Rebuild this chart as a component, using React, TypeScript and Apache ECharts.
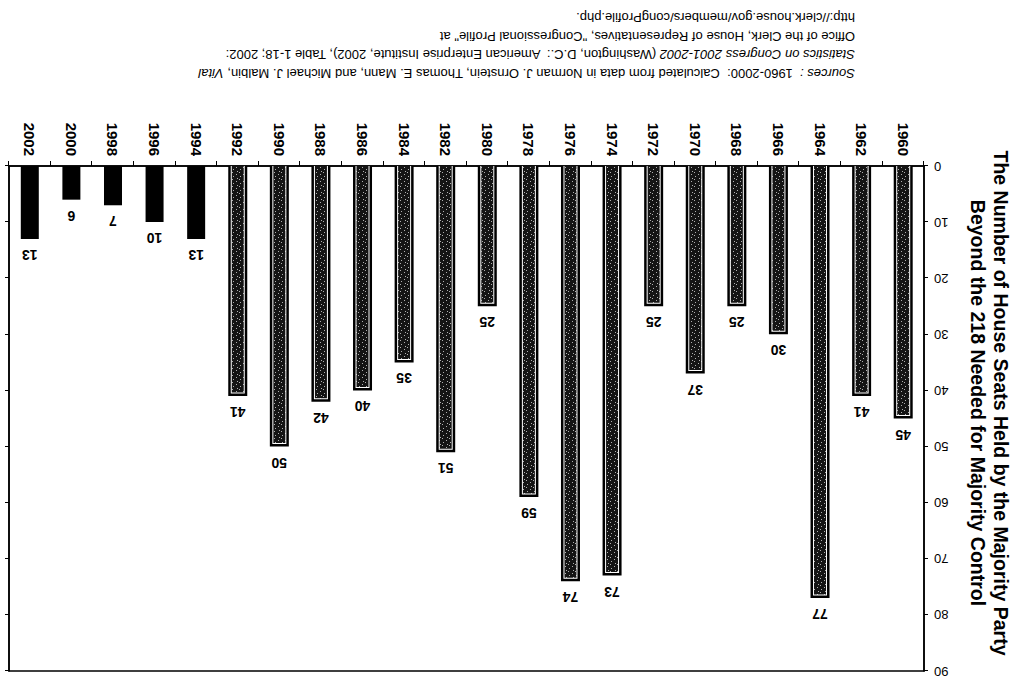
import React, { useEffect, useRef } from "react";
import * as echarts from "echarts";

const years = ["1960", "1962", "1964", "1966", "1968", "1970", "1972", "1974", "1976", "1978", "1980", "1982", "1984", "1986", "1988", "1990", "1992", "1994", "1996", "1998", "2000", "2002"];
const seatsBeyond218 = [45, 41, 77, 30, 25, 37, 25, 73, 74, 59, 25, 51, 35, 40, 42, 50, 41, 13, 10, 7, 6, 13];
const majorityParty = ["D", "D", "D", "D", "D", "D", "D", "D", "D", "D", "D", "D", "D", "D", "D", "D", "D", "R", "R", "R", "R", "R"];
const valueAxisMin = 0;
const valueAxisMax = 90;
const valueAxisStep = 10;
const titleLines = [
  "The Number of House Seats Held by the Majority Party",
  "Beyond the 218 Needed for Majority Control",
];
const sourceLines = [
  "{i|Sources :}  1960-2000:  Calculated from data in Norman J. Ornstein, Thomas E. Mann, and Michael J. Malbin, {i|Vital}",
  "{i|Statistics on Congress 2001-2002} (Washington, D.C.:  American Enterprise Institute, 2002), Table 1-18; 2002:",
  "Office of the Clerk, House of Representatives, \"Congressional Profile\" at",
  "http://clerk.house.gov/members/congProfile.php.",
];

const FONT = "'Liberation Sans', Arial, sans-serif";

function makeSpeckle(): HTMLCanvasElement {
  const c = document.createElement("canvas");
  c.width = 7;
  c.height = 7;
  const ctx = c.getContext("2d")!;
  ctx.fillStyle = "#141414";
  ctx.fillRect(0, 0, 7, 7);
  ctx.fillStyle = "#b0b0b0";
  const dots = [[1, 0], [5, 2], [2, 4], [6, 6]];
  dots.forEach(([x, y]) => ctx.fillRect(x, y, 1, 1));
  return c;
}

export default function App() {
  const ref = useRef<HTMLDivElement>(null);
  useEffect(() => {
    if (!ref.current) return;
    const chart = echarts.init(ref.current, null, { renderer: "svg" });
    const speckle = makeSpeckle();
    const patternFill: any = { image: speckle, repeat: "repeat", imageWidth: 7, imageHeight: 7 };

    const option: any = {
      animation: false,
      backgroundColor: "#fff",
      textStyle: { fontFamily: FONT },
      grid: {
        left: 92,
        right: 9,
        top: 12,
        bottom: 166,
        show: true,
        borderColor: "#000",
        borderWidth: 1.5,
        backgroundColor: "transparent",
      },
      xAxis: {
        type: "category",
        data: years,
        axisLine: { show: true, lineStyle: { color: "#000", width: 1.5 } },
        axisTick: { show: true, length: 5, lineStyle: { color: "#000", width: 1 } },
        axisLabel: {
          rotate: 90,
          interval: 0,
          margin: 10,
          color: "#000",
          fontSize: 15,
          fontWeight: "bold",
          fontFamily: FONT,
        },
        splitLine: { show: false },
      },
      yAxis: [
        {
          type: "value",
          min: valueAxisMin,
          max: valueAxisMax,
          interval: valueAxisStep,
          position: "left",
          axisLine: { show: true, lineStyle: { color: "#000", width: 1.5 } },
          axisTick: { show: true, length: 4, lineStyle: { color: "#000" } },
          axisLabel: { margin: 10, color: "#000", fontSize: 13, fontFamily: FONT },
          splitLine: { show: false },
        },
        {
          type: "value",
          min: valueAxisMin,
          max: valueAxisMax,
          interval: valueAxisStep,
          position: "right",
          axisLine: { show: true, lineStyle: { color: "#000", width: 1.5 } },
          axisTick: { show: true, length: 4, lineStyle: { color: "#000" } },
          axisLabel: { show: false },
          splitLine: { show: false },
        },
      ],
      series: [
        {
          type: "custom",
          xAxisIndex: 0,
          yAxisIndex: 0,
          data: seatsBeyond218.map((v, i) => [i, v]),
          encode: { x: 0, y: 1 },
          clip: false,
          renderItem: (params: any, api: any) => {
            const idx = api.value(0);
            const v = api.value(1);
            const p0 = api.coord([idx, 0]);
            const p1 = api.coord([idx, v]);
            const party = majorityParty[params.dataIndex];
            const w = party === "R" ? 18 : 19;
            const x = p0[0] - w / 2;
            const y = p1[1];
            const h = p0[1] - p1[1];
            const children: any[] = [];
            if (party === "R") {
              children.push({ type: "rect", shape: { x, y, width: w, height: h }, style: { fill: "#000" } });
            } else {
              children.push({ type: "rect", shape: { x, y, width: w, height: h }, style: { fill: "#000" } });
              children.push({
                type: "rect",
                shape: { x: x + 2.5, y: y + 2.5, width: w - 5, height: h - 2.5 },
                style: { fill: "#fff" },
              });
              children.push({
                type: "rect",
                shape: { x: x + 3.5, y: y + 3.5, width: w - 7, height: h - 3.5 },
                style: { fill: patternFill },
              });
            }
            children.push({
              type: "text",
              x: p0[0],
              y: y - 16,
              style: {
                text: String(v),
                fill: "#000",
                fontSize: 14,
                fontWeight: "bold",
                fontFamily: FONT,
                align: "center",
                verticalAlign: "middle",
                textAlign: "center",
                textVerticalAlign: "middle",
              },
            });
            return { type: "group", children };
          },
        },
      ],
      graphic: [
        {
          type: "text",
          x: 27,
          y: 280,
          rotation: Math.PI / 2,
          style: {
            text: titleLines.join("\n"),
            fill: "#000",
            fontSize: 19.5,
            fontWeight: "bold",
            fontFamily: FONT,
            lineHeight: 23,
            align: "center",
            verticalAlign: "middle",
            textAlign: "center",
            textVerticalAlign: "middle",
          },
        },
        {
          type: "text",
          x: 161,
          y: 600,
          style: {
            text: sourceLines.join("\n"),
            fill: "#000",
            fontSize: 13,
            fontFamily: FONT,
            lineHeight: 18.7,
            align: "left",
            verticalAlign: "top",
            textAlign: "left",
            textVerticalAlign: "top",
            rich: {
              i: { fontStyle: "italic", fontSize: 13, fontFamily: FONT, lineHeight: 18.7, fill: "#000" },
            },
          },
        },
      ],
    };
    chart.setOption(option);
    return () => chart.dispose();
  }, []);

  return (
    <div
      style={{
        position: "absolute",
        left: 0,
        top: 0,
        width: 1016,
        height: 683,
        background: "#fff",
        transform: "rotate(180deg)",
        transformOrigin: "50% 50%",
      }}
    >
      <div ref={ref} style={{ width: 1016, height: 683 }} />
    </div>
  );
}
